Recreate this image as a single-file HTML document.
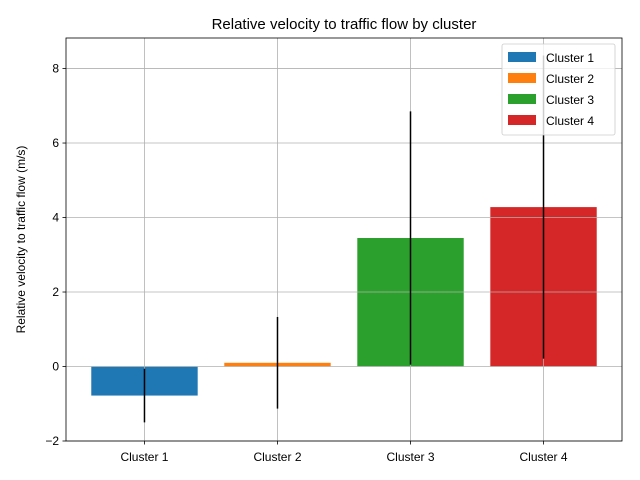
<!DOCTYPE html>
<html><head><meta charset="utf-8"><style>body{margin:0;background:#fff}svg{display:block;font-family:"Liberation Sans","DejaVu Sans",sans-serif}</style></head>
<body>
<svg id="chart" width="640" height="480"></svg>
<script>
const categories = ["Cluster 1","Cluster 2","Cluster 3","Cluster 4"];
const values = [-0.78, 0.1, 3.45, 4.28];
const errors = [0.72, 1.23, 3.4, 4.07];
const colors = ["#1f77b4","#ff7f0e","#2ca02c","#d62728"];
const yTicks = [-2,0,2,4,6,8];

const NS="http://www.w3.org/2000/svg";
const svg=document.getElementById('chart');
const L=66,R=622,T=38,B=441;
const xMin=-0.59,xMax=3.59,yMin=-2,yMax=8.82;
const xs=v=>L+(v-xMin)/(xMax-xMin)*(R-L);
const ys=v=>B-(v-yMin)/(yMax-yMin)*(B-T);
function el(tag,attrs,parent){const e=document.createElementNS(NS,tag);for(const k in attrs)e.setAttribute(k,attrs[k]);(parent||svg).appendChild(e);return e;}

// bars
categories.forEach((c,i)=>{
  const v=values[i];
  const r=el('rect',{x:xs(i-0.4),width:xs(i+0.4)-xs(i-0.4),y:Math.min(ys(v),ys(0)),height:Math.abs(ys(v)-ys(0)),fill:colors[i]});
  
  
});
// grid (above bars)
yTicks.forEach(t=>{
  const g=el('line',{x1:L,x2:R,y1:ys(t),y2:ys(t),stroke:'#b0b0b0','stroke-width':0.8});
  
  
});
categories.forEach((c,i)=>{
  const g=el('line',{x1:xs(i),x2:xs(i),y1:T,y2:B,stroke:'#b0b0b0','stroke-width':0.8});
  
  
});
categories.forEach((c,i)=>{
  const e=el('line',{x1:xs(i),x2:xs(i),y1:ys(values[i]-errors[i]),y2:ys(values[i]+errors[i]),stroke:'#000','stroke-width':1.5});
  
  
});
// frame
const f=el('rect',{x:L,y:T,width:R-L,height:B-T,fill:'none',stroke:'#000','stroke-width':0.8});


// ticks
yTicks.forEach(t=>{
  el('line',{x1:L-3.5,x2:L,y1:ys(t),y2:ys(t),stroke:'#000','stroke-width':0.8});
  const tx=el('text',{x:L-7,y:ys(t)+4,'font-size':12,'text-anchor':'end'});
  tx.textContent=(t<0?'\u2212'+(-t):t);
  
  
});
categories.forEach((c,i)=>{
  el('line',{x1:xs(i),x2:xs(i),y1:B,y2:B+3.5,stroke:'#000','stroke-width':0.8});
  const tx=el('text',{x:xs(i),y:B+20,'font-size':12,'text-anchor':'middle'});
  tx.textContent=c;
  
  
});
const title=el('text',{x:(L+R)/2,y:29,'font-size':15,'text-anchor':'middle'});
title.textContent='Relative velocity to traffic flow by cluster';


const yl=el('text',{x:0,y:0,'font-size':12,'text-anchor':'middle',transform:`translate(25,${(T+B)/2}) rotate(-90)`});
yl.textContent='Relative velocity to traffic flow (m/s)';


// legend
const lg=el('g',{});


el('rect',{x:502,y:44,width:113,height:91,rx:2,fill:'#fff','fill-opacity':0.8,stroke:'#ccc','stroke-width':0.8},lg);
categories.forEach((c,i)=>{
  const y=52+i*21;
  const g=el('g',{},lg);
  
  
  el('rect',{x:508,y:y,width:28,height:10,fill:colors[i]},g);
  const t=el('text',{x:546,y:y+10,'font-size':12},g);
  t.textContent=c;
});
</script>
</body></html>
